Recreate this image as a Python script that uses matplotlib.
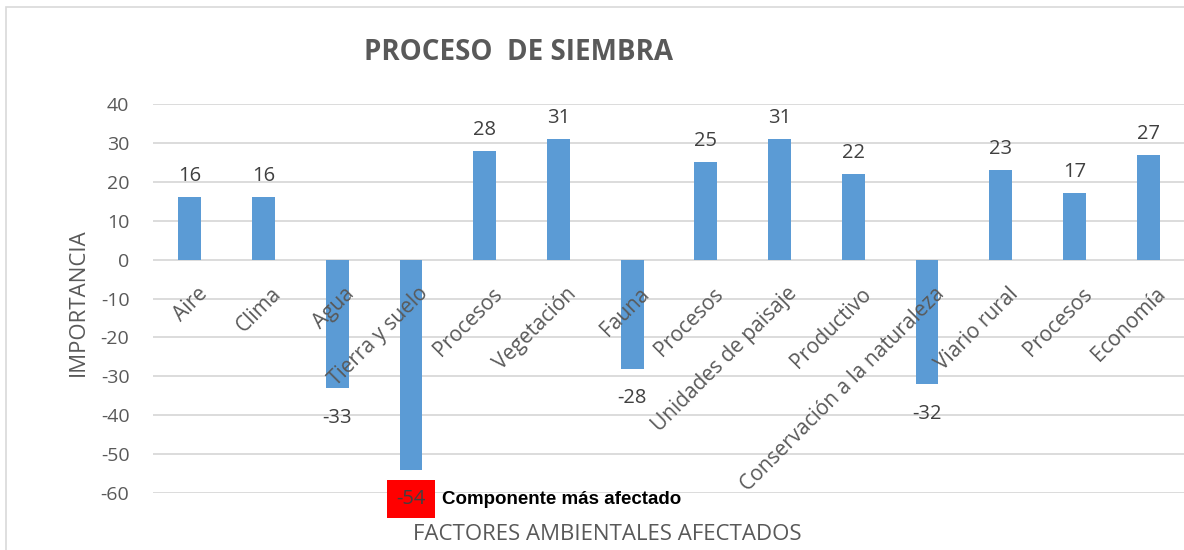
import matplotlib as mpl
import matplotlib.pyplot as plt
from matplotlib.patches import Rectangle

# categorias y valores de importancia
factores = ['Aire', 'Clima', 'Agua', 'Tierra y suelo', 'Procesos', 'Vegetación',
            'Fauna', 'Procesos', 'Unidades de paisaje', 'Productivo',
            'Conservación a la naturaleza', 'Viario rural', 'Procesos', 'Economía']
importancia = [16, 16, -33, -54, 28, 31, -28, 25, 31, 22, -32, 23, 17, 27]
y_ticks = [-60, -50, -40, -30, -20, -10, 0, 10, 20, 30, 40]

gris = '#595959'
azul = '#5B9BD5'
mpl.rcParams['font.family'] = ['Open Sans', 'DejaVu Sans']

dpi = 100
fig = plt.figure(dpi=dpi, figsize=(1184 / dpi, 550 / dpi))
fig.patches.append(Rectangle((6 / 1184, -0.1), 1.2, 1.1 - 7 / 550,
                             transform=fig.transFigure, fill=False,
                             edgecolor='#D9D9D9', linewidth=1.2))

ax = fig.add_axes([153 / 1184, 57 / 550, 1032 / 1184, 389 / 550])
x = list(range(len(factores)))
ax.bar(x, importancia, width=0.31, color=azul, zorder=3)

ax.set_xlim(-0.5, len(factores) - 0.5)
ax.set_ylim(-60, 40)
ax.set_yticks(y_ticks)
ax.set_yticklabels([str(v) for v in y_ticks])
ax.tick_params(axis='y', length=0, pad=17, labelsize=14, labelcolor=gris)
ax.set_xticks([])
ax.grid(axis='y', color='#D9D9D9', linewidth=1.3, zorder=0)
for s in ax.spines.values():
    s.set_visible(False)

# etiquetas de categoria, giradas como en excel
for i, nombre in enumerate(factores):
    ax.annotate(nombre, (i, 0), xytext=(5, -17), textcoords='offset points',
                rotation=45, rotation_mode='anchor', ha='right', va='top',
                fontsize=15, color=gris, zorder=4)

# etiquetas de datos
for i, v in enumerate(importancia):
    if v >= 0:
        ax.annotate(str(v), (i, v), xytext=(0, 11.5), textcoords='offset points',
                    ha='center', va='baseline', fontsize=14.5, color='#404040')
    elif v == min(importancia):
        ax.annotate(str(v), (i, v), xytext=(0, -24.5), textcoords='offset points',
                    ha='center', va='baseline', fontsize=14.5, color='#404040',
                    bbox=dict(boxstyle='square,pad=0.45', facecolor='red',
                              edgecolor='none'), zorder=5)
        ax.annotate('Componente más afectado', (i, v), xytext=(22, -24.5),
                    textcoords='offset points', ha='left', va='baseline',
                    fontsize=13.5, fontweight='bold', color='black',
                    family=['Liberation Sans', 'DejaVu Sans'], zorder=5)
    else:
        ax.annotate(str(v), (i, v), xytext=(0, -25), textcoords='offset points',
                    ha='center', va='baseline', fontsize=14.5, color='#404040')

fig.text(518 / 1184, 1 - 53 / 550, 'PROCESO  DE SIEMBRA', ha='center', va='center',
         fontsize=20, fontweight='bold', color=gris)
fig.text(78 / 1184, 1 - 302 / 550, 'IMPORTANCIA', rotation=90, ha='center',
         va='center', fontsize=16, color=gris)
fig.text(607 / 1184, 1 - 535 / 550, 'FACTORES AMBIENTALES AFECTADOS', ha='center',
         va='center', fontsize=16, color=gris)

fig.savefig('out.png', dpi=dpi)
